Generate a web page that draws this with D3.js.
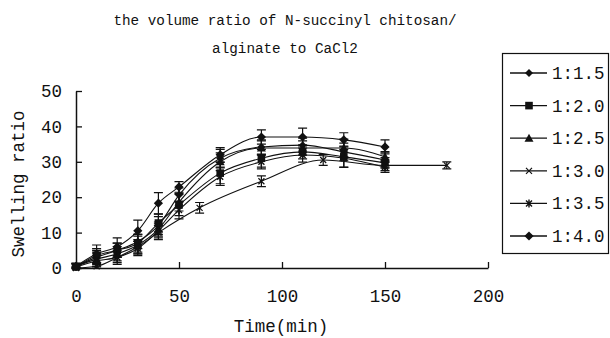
<!DOCTYPE html>
<html>
<head>
<meta charset="utf-8">
<script src="https://cdn.jsdelivr.net/npm/d3@7"></script>
<style>
  body { margin: 0; background: #fff; }
  svg text { font-family: "Liberation Mono", "DejaVu Sans Mono", monospace; fill: #111; }
</style>
</head>
<body>
<svg id="chart" width="610" height="338"></svg>
<script>
// DATA
const titleLines = ["the volume ratio of N-succinyl chitosan/", "alginate to CaCl2"];
const xTicks = [0, 50, 100, 150, 200];
const yTicks = [0, 10, 20, 30, 40, 50];
const times = [0, 10, 20, 30, 40, 50, 70, 90, 110, 130, 150];
const times30 = [0, 10, 20, 30, 40, 60, 90, 120, 150, 180];

const s15 = [0.5, 3, 5, 7.5, 12, 20.6, 31, 34.2, 34.7, 32.8, 30.5];
const s20 = [0.3, 3.5, 5, 7, 12.7, 17.8, 26.8, 31, 32.8, 31.4, 29.7];
const s25 = [0.5, 2.5, 4, 6.5, 11, 18.6, 30, 33.9, 33.9, 33.9, 31.4];
const s30 = [0, 0.5, 3, 6, 10, 17, 24.5, 30.5, 29, 29];
const s35 = [0.3, 2, 3, 5.5, 10.5, 16.4, 25.8, 30, 31.9, 31, 28.5];
const s40 = [0.5, 4, 6, 10.5, 18.3, 22.9, 32, 37, 37, 36.2, 34.2];

const e15 = [0.8, 2, 2, 2, 2.5, 2, 2.5, 2, 2, 2.5, 2];
const e20 = [0.8, 2, 2, 2.5, 2.5, 3, 3, 2.5, 2, 3, 1.5];
const e25 = [0.8, 2, 2, 2.5, 2, 2.5, 2.5, 2, 2, 2.5, 1.5];
const e30 = [0.5, 0.8, 1.5, 2, 2, 1.5, 1.5, 1.5, 1.5, 1];
const e35 = [0.8, 1.5, 2, 2, 2, 2.5, 2.5, 2, 2, 2.5, 1.5];
const e40 = [0.8, 2.5, 2.5, 3, 3, 1.5, 2, 2, 2.5, 2, 2];

const labels = ["1:1.5", "1:2.0", "1:2.5", "1:3.0", "1:3.5", "1:4.0"];
const seriesVals = [s15, s20, s25, s30, s35, s40];
const seriesErr = [e15, e20, e25, e30, e35, e40];
const seriesTimes = [times, times, times, times30, times, times];
const shapes = ["diamond", "square", "triangle", "cross", "star", "diamondBig"];

const svg = d3.select("#chart");
const ink = "#111";

const x = d3.scaleLinear().domain([0, 200]).range([76, 488]);
const y = d3.scaleLinear().domain([0, 50]).range([268, 91]);

// title
svg.append("g").selectAll("text").data(titleLines).join("text")
  .attr("x", 285).attr("y", (d, i) => 25 + i * 28)
  .attr("text-anchor", "middle").attr("font-size", 14.3)
  .text(d => d);

// axes with inside ticks
const xAxis = svg.append("g").attr("transform", `translate(0,${y(0)})`)
  .call(d3.axisBottom(x).tickValues(xTicks).tickSize(-6).tickPadding(22).tickSizeOuter(0));
const yAxis = svg.append("g").attr("transform", `translate(${x(0)},0)`)
  .call(d3.axisLeft(y).tickValues(yTicks).tickSize(-6).tickPadding(14).tickSizeOuter(0));
[xAxis, yAxis].forEach(a => {
  a.select(".domain").attr("stroke", ink).attr("stroke-width", 1.5);
  a.selectAll(".tick line").attr("stroke", ink).attr("stroke-width", 1.3);
  a.selectAll(".tick text").attr("font-size", 17.5).attr("fill", "#222")
    .style("font-family", "'Liberation Mono', monospace");
});

svg.append("text").attr("x", 281).attr("y", 332).attr("text-anchor", "middle")
  .attr("font-size", 17.5).text("Time(min)");
svg.append("text").attr("transform", "translate(24,184) rotate(-90)")
  .attr("text-anchor", "middle").attr("font-size", 17.5).text("Swelling ratio");

// markers
function drawMarker(g, shape, cx, cy) {
  if (shape === "diamond" || shape === "diamondBig") {
    const r = shape === "diamond" ? 4 : 4.6;
    g.append("path").attr("d", `M${cx},${cy - r}L${cx + r},${cy}L${cx},${cy + r}L${cx - r},${cy}Z`).attr("fill", ink);
  } else if (shape === "square") {
    g.append("rect").attr("x", cx - 3.8).attr("y", cy - 3.8).attr("width", 7.6).attr("height", 7.6).attr("fill", ink);
  } else if (shape === "triangle") {
    g.append("path").attr("d", `M${cx},${cy - 4.5}L${cx + 4.5},${cy + 3.5}L${cx - 4.5},${cy + 3.5}Z`).attr("fill", ink);
  } else if (shape === "cross") {
    g.append("path").attr("d", `M${cx - 3},${cy - 3}L${cx + 3},${cy + 3}M${cx - 3},${cy + 3}L${cx + 3},${cy - 3}`)
      .attr("stroke", ink).attr("stroke-width", 1.2);
  } else {
    g.append("path").attr("d", `M${cx - 3},${cy - 3}L${cx + 3},${cy + 3}M${cx - 3},${cy + 3}L${cx + 3},${cy - 3}M${cx},${cy - 4}L${cx},${cy + 4}`)
      .attr("stroke", ink).attr("stroke-width", 1.4);
  }
}

const line = d3.line().curve(d3.curveMonotoneX).x(d => x(d.t)).y(d => y(d.v));

seriesVals.forEach((vals, si) => {
  const pts = vals.map((v, i) => ({ t: seriesTimes[si][i], v: v, e: seriesErr[si][i] }));
  const g = svg.append("g");
  g.append("path").datum(pts).attr("d", line).attr("fill", "none")
    .attr("stroke", ink).attr("stroke-width", 1.1);
  pts.forEach(p => {
    const cx = x(p.t), lo = y(Math.max(0, p.v - p.e)), hi = y(p.v + p.e);
    g.append("path")
      .attr("d", `M${cx},${lo}L${cx},${hi}M${cx - 4.5},${lo}L${cx + 4.5},${lo}M${cx - 4.5},${hi}L${cx + 4.5},${hi}`)
      .attr("stroke", ink).attr("stroke-width", 1.2).attr("fill", "none");
    drawMarker(g, shapes[si], cx, y(p.v));
  });
});

// legend
const legend = svg.append("g");
legend.append("rect").attr("x", 502.5).attr("y", 53.5).attr("width", 106).attr("height", 200)
  .attr("fill", "#fff").attr("stroke", ink).attr("stroke-width", 1.2);
labels.forEach((lab, i) => {
  const ly = 73 + i * 32.6;
  legend.append("line").attr("x1", 510).attr("x2", 547).attr("y1", ly).attr("y2", ly)
    .attr("stroke", ink).attr("stroke-width", 1.3);
  drawMarker(legend, shapes[i], 529, ly);
  legend.append("text").attr("x", 552).attr("y", ly + 6).attr("font-size", 17.5).text(lab);
});
</script>
</body>
</html>
